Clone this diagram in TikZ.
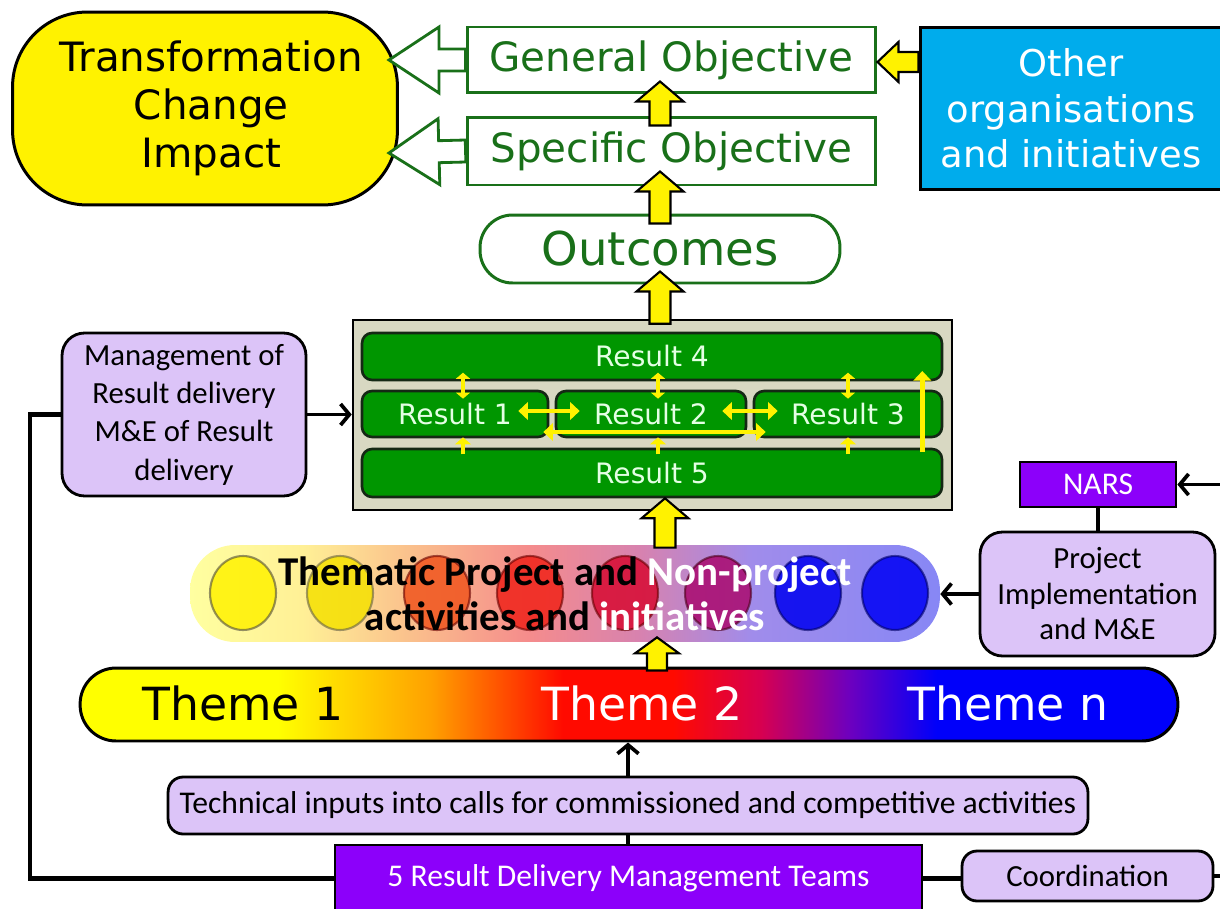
\documentclass[tikz,border=0pt]{standalone}
\usepackage{fontspec}
\setmainfont{DejaVu Sans}
\newfontfamily\calfont{Carlito}
\usetikzlibrary{calc,arrows.meta,shapes.geometric}

% palette
\definecolor{objgreen}{RGB}{25,112,25}
\definecolor{resgreen}{RGB}{0,150,0}
\definecolor{resedge}{RGB}{20,40,20}
\definecolor{restext}{RGB}{228,255,228}
\definecolor{panelbg}{RGB}{216,216,194}
\definecolor{lav}{RGB}{220,196,248}
\definecolor{teamviolet}{RGB}{140,0,250}
\definecolor{skyblue}{RGB}{0,172,236}
% theme bar colours
\definecolor{thorange}{RGB}{255,160,0}
\definecolor{thred}{RGB}{255,10,0}
\definecolor{thcrimson}{RGB}{215,0,80}
\definecolor{thpurple}{RGB}{110,0,190}
\definecolor{thblue}{RGB}{0,0,250}
% activity band colours
\definecolor{bdA}{RGB}{255,255,160}
\definecolor{bdB}{RGB}{255,240,150}
\definecolor{bdC}{RGB}{250,190,140}
\definecolor{bdD}{RGB}{245,140,140}
\definecolor{bdE}{RGB}{215,130,175}
\definecolor{bdF}{RGB}{160,140,235}
\definecolor{bdG}{RGB}{135,135,245}

\pgfdeclarehorizontalshading{themeshade}{100bp}{%
  color(0bp)=(yellow); color(34bp)=(yellow); color(41bp)=(thorange);
  color(47bp)=(thred); color(52bp)=(thred); color(56bp)=(thcrimson); color(60bp)=(thpurple);
  color(64bp)=(thblue); color(100bp)=(thblue)}
\pgfdeclarehorizontalshading{bandshade}{100bp}{%
  color(0bp)=(bdA); color(25bp)=(bdA); color(32.5bp)=(bdB); color(40bp)=(bdC);
  color(47.5bp)=(bdD); color(55bp)=(bdE); color(62.5bp)=(bdF);
  color(75bp)=(bdG); color(100bp)=(bdG)}

% block arrow: style, tail, tip, half shaft, half head, head length
\newcommand{\blockarrow}[6]{%
  \path #2 coordinate (baA) #3 coordinate (baB);
  \path ($(baB)!#6!(baA)$) coordinate (baC);
  \draw[#1] ($(baA)!#4!90:(baB)$) -- ($(baC)!#4!-90:(baA)$)
    -- ($(baC)!#5!-90:(baA)$) -- (baB) -- ($(baC)!#5!90:(baA)$)
    -- ($(baC)!#4!90:(baA)$) -- ($(baA)!#4!-90:(baB)$) -- cycle;
}

\begin{document}
\begin{tikzpicture}[x=0.02cm,y=-0.02cm,
  transbox/.style={draw=black, line width=1.7pt, fill=yellow, rounded corners=1.5cm,
    minimum width=7.7cm, minimum height=3.86cm, align=center, inner sep=0pt,
    font=\fontsize{23}{27.5}\selectfont},
  objbox/.style={draw=objgreen, line width=1.7pt, fill=white, text=objgreen,
    minimum width=8.18cm, inner sep=0pt, font=\fontsize{23}{28}\selectfont},
  result/.style={draw=resedge, line width=1.5pt, fill=resgreen, text=restext,
    rounded corners=0.2cm, inner sep=0pt, font=\fontsize{16}{18}\selectfont},
  lavbox/.style={draw=black, line width=1.6pt, fill=lav, rounded corners=0.45cm,
    align=center, inner sep=0pt, font=\calfont\fontsize{17.5}{21.4}\selectfont},
  violetbox/.style={draw=black, line width=1.6pt, fill=teamviolet, text=white,
    inner sep=0pt, font=\calfont\fontsize{18}{22}\selectfont},
  activity/.style={ellipse, minimum width=1.32cm, minimum height=1.48cm,
    line width=1.2pt, fill opacity=0.85, draw opacity=0.6},
  themelabel/.style={inner sep=0pt, font=\fontsize{26}{30}\selectfont},
  yblk/.style={fill=yellow, draw=black, line width=1.2pt, line join=miter},
  hollow/.style={fill=white, draw=objgreen, line width=1.6pt, line join=miter},
  dbl/.style={draw=yellow, line width=2.8pt, >={Triangle[length=5.5pt,width=10pt]}, <->},
  vdbl/.style={draw=yellow, line width=2.4pt, >={Triangle[length=3.5pt,width=8pt]}, <->},
  sgl/.style={draw=yellow, line width=2.8pt, >={Triangle[length=5.5pt,width=10pt]}, ->},
  vsgl/.style={draw=yellow, line width=2.6pt, >={Triangle[length=4pt,width=9pt]}, ->},
  conn/.style={draw=black, line width=2.1pt, -{Straight Barb[length=5pt,width=12pt]}},
  link/.style={draw=black, line width=2.1pt},
  heavy/.style={draw=black, line width=2.6pt}]

\useasboundingbox (0,0) rectangle (1220,909);
\clip (0,0) rectangle (1220,909);

% ---- top: objectives and impact ----
\node[transbox] (trans) at (205,108.5) {\hspace*{0.25cm}Transformation\\\hspace*{0.25cm}Change\\\hspace*{0.25cm}Impact};
\node[objbox, minimum height=1.32cm] (gen) at (671.5,60) {General Objective};
\node[objbox, minimum height=1.36cm] (spec) at (671.5,151) {Specific Objective};
\node[objbox, minimum width=7.2cm, minimum height=1.36cm, rounded corners=0.65cm,
  font=\fontsize{26.5}{30}\selectfont] (outc) at (660,249) {Outcomes};
\node[draw=black, line width=1.7pt, fill=skyblue, text=white, align=center,
  minimum width=6.04cm, minimum height=3.26cm, inner sep=0pt,
  font=\fontsize{21}{26}\selectfont] (other) at (1071,108.5)
  {Other\\organisations\\and initiatives};

\blockarrow{hollow}{(gen.west)}{($(gen.west -| trans.east)+(-10,0)$)}{0.22cm}{0.66cm}{1.0cm}
\blockarrow{hollow}{(spec.west)}{($(spec.west -| trans.east)+(-10,2)$)}{0.22cm}{0.66cm}{1.0cm}
\blockarrow{yblk}{($(other.west |- gen.east)+(0,2)$)}{($(gen.east)+(0,2)$)}{0.2cm}{0.4cm}{0.42cm}

% ---- results panel ----
\node[draw=black, line width=1.5pt, fill=panelbg, minimum width=11.98cm,
  minimum height=3.8cm, inner sep=0pt] (panel) at (652.5,415) {};
\node[result, minimum width=11.6cm, minimum height=0.94cm] (r4) at (652,356.5) {Result 4};
\node[result, minimum width=3.72cm, minimum height=0.92cm] (r1) at (455,414) {Result 1};
\node[result, minimum width=3.8cm, minimum height=0.92cm] (r2) at (651,414) {Result 2};
\node[result, minimum width=3.76cm, minimum height=0.92cm] (r3) at (848,414) {Result 3};
\node[result, minimum width=11.6cm, minimum height=0.96cm] (r5) at (652,473) {Result 5};

% links between results
\draw[vdbl] ($(r1.north)+(8,-17)$) -- ($(r1.north)+(8,9)$);
\draw[vdbl] ($(r2.north)+(7,-17)$) -- ($(r2.north)+(7,9)$);
\draw[vdbl] ($(r3.north)+(0,-17)$) -- ($(r3.north)+(0,9)$);
\draw[vsgl] ($(r1.south)+(8,16)$) -- ($(r1.south)+(8,-1)$);
\draw[vsgl] ($(r2.south)+(7,16)$) -- ($(r2.south)+(7,-1)$);
\draw[vsgl] ($(r3.south)+(0,16)$) -- ($(r3.south)+(0,-1)$);
\draw[dbl] ($(r1.east)+(-31,-3)$) -- ($(r2.west)+(25,-3)$);
\draw[dbl] ($(r2.east)+(-25,-3)$) -- ($(r3.west)+(25,-3)$);
\draw[dbl] ($(r1.east)+(-6,18)$) -- ($(r3.west)+(13,18)$);
\draw[sgl] ($(r3.east)+(-21,38)$) -- ($(r3.east)+(-21,-43)$);

% ---- management of result delivery ----
\node[lavbox, minimum width=4.88cm, minimum height=3.26cm,
  font=\calfont\fontsize{17.5}{21.8}\selectfont] (mgmt) at (184,414.5)
  {Management of\\Result delivery\\M\&E of Result\\delivery};

% ---- activities band ----
\node[shade, shading=bandshade, rounded corners=0.9cm, minimum width=15cm,
  minimum height=1.94cm, inner sep=0pt] (them) at (565,593.5) {};
\node[activity, fill=yellow, draw=black!80!yellow] (c1) at (243,593) {};
\node[activity, fill={rgb,255:red,245;green,225;blue,0}, draw=black!70!yellow] (c2) at (340,593) {};
\node[activity, fill={rgb,255:red,240;green,85;blue,30}, draw=black!60!red] (c3) at (437,593) {};
\node[activity, fill={rgb,255:red,240;green,35;blue,25}, draw=black!60!red] (c4) at (530,593) {};
\node[activity, fill={rgb,255:red,215;green,10;blue,50}, draw=black!60!red] (c5) at (625,593) {};
\node[activity, fill={rgb,255:red,170;green,10;blue,110}, draw=black!60!purple] (c6) at (718,593) {};
\node[activity, fill={rgb,255:red,0;green,0;blue,240}, draw=black!60!blue] (c7) at (808,593) {};
\node[activity, fill={rgb,255:red,0;green,0;blue,245}, draw=black!60!blue] (c8) at (895,593) {};
\node[align=center, inner sep=0pt, font=\calfont\bfseries\fontsize{23.3}{25.5}\selectfont]
  (themtext) at (565,594)
  {Thematic Project and \textcolor{white}{Non-project}\\activities and \textcolor{white}{initiatives}};

% ---- NARS and project implementation ----
\node[violetbox, minimum width=3.12cm, minimum height=0.9cm] (nars) at (1098,484.5) {NARS};
\node[lavbox, minimum width=4.7cm, minimum height=2.48cm,
  font=\calfont\fontsize{17.5}{20.2}\selectfont] (proj) at (1097.5,594)
  {Project\\Implementation\\and M\&E};

% ---- theme bar ----
\node[shade, shading=themeshade, draw=black, line width=1.7pt, rounded corners=0.72cm,
  minimum width=21.96cm, minimum height=1.46cm, inner sep=0pt] (theme) at (629,704.5) {};
\node[themelabel, text=black] (t1) at (243,703) {Theme 1};
\node[themelabel, text=white] (t2) at (642,703) {Theme 2};
\node[themelabel, text=white] (tn) at (1008,703) {Theme n};

% ---- bottom row ----
\node[lavbox, minimum width=18.4cm, minimum height=1.14cm, rounded corners=0.3cm,
  font=\calfont\fontsize{18}{22}\selectfont] (tech) at (628,805.5)
  {Technical inputs into calls for commissioned and competitive activities};
\node[violetbox, minimum width=11.74cm, minimum height=1.34cm] (teams) at (628.5,878.5)
  {5 Result Delivery Management Teams};
\node[lavbox, minimum width=5.02cm, minimum height=1.0cm, rounded corners=0.3cm]
  (coord) at (1087.5,876) {Coordination};

% ---- yellow flow arrows ----
\blockarrow{yblk}{($(spec.north -| outc.north)+(0,10)$)}{($(gen.south -| outc.north)+(0,-13)$)}{0.21cm}{0.47cm}{0.4cm}
\blockarrow{yblk}{($(outc.north)+(0,10)$)}{($(spec.south -| outc.north)+(0,-15)$)}{0.21cm}{0.47cm}{0.4cm}
\blockarrow{yblk}{($(panel.north -| outc.north)+(0,5)$)}{($(outc.south)+(0,-13)$)}{0.21cm}{0.47cm}{0.4cm}
\blockarrow{yblk}{($(them.north -| panel.south)+(12.5,3)$)}{($(panel.south)+(12.5,-13)$)}{0.21cm}{0.47cm}{0.4cm}
\blockarrow{yblk}{($(theme.north -| panel.south)+(4.5,4)$)}{($(them.south -| panel.south)+(4.5,-5)$)}{0.2cm}{0.44cm}{0.32cm}

% ---- connectors ----
\coordinate (lc) at (30,600);
\coordinate (edgeN) at (1225,484.5);
\coordinate (edgeC) at (1225,876);
\draw[conn] (mgmt.east) -- (mgmt.east -| panel.west);
\draw[heavy] (teams.west) -| (lc) |- (mgmt.west);
\draw[heavy] (teams.east) -- (teams.east -| coord.west);
\draw[link] (coord.east) -- (edgeC);
\draw[conn] (edgeN) -- (nars.east);
\draw[link] (nars.south) -- (nars.south |- proj.north);
\draw[conn] (proj.west) -- (proj.west -| them.east);
\draw[conn] (tech.north) -- (tech.north |- theme.south);
\draw[link] (tech.south) -- (tech.south |- teams.north);
\end{tikzpicture}
\end{document}
